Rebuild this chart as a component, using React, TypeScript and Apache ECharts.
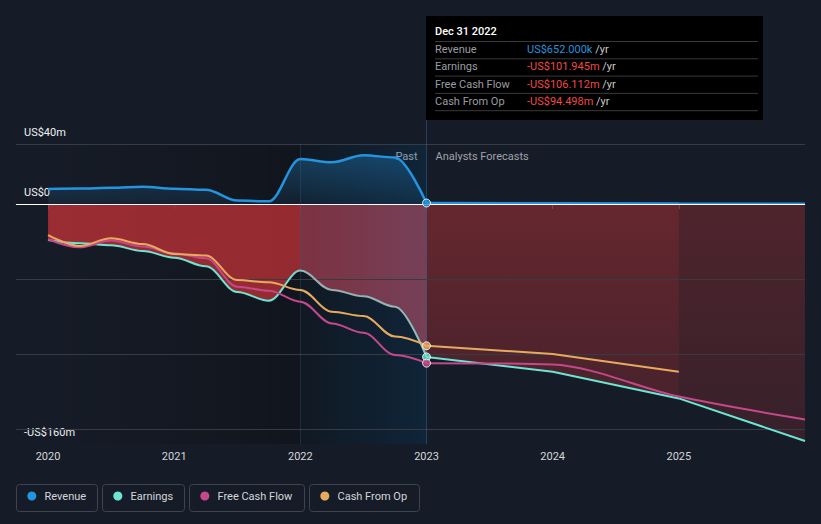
import React, { useEffect, useRef } from "react";
import * as echarts from "echarts";

// ---------- data (US$ millions) ----------
const pastYears = [2020, 2020.25, 2020.5, 2020.75, 2021, 2021.25, 2021.5, 2021.75, 2022, 2022.25, 2022.5, 2022.75, 2023];
const forecastYears = [2023, 2024, 2025, 2026];
const cfoForecastYears = [2023, 2024, 2025];

const revenuePast = [10, 10.3, 10.8, 11.5, 10.2, 9.5, 2.3, 1.8, 30, 27.8, 32.5, 31, 0.652];
const revenueForecast = [0.652, 0.5, 0.3, 0.2];

const earningsPast = [-24, -26.2, -27.5, -31.3, -35.8, -41.5, -58.6, -64.5, -44.4, -57.3, -61.5, -68.5, -101.945];
const earningsForecast = [-101.945, -111.8, -129.6, -158];

const fcfPast = [-23.5, -28.9, -24.4, -28.4, -32.9, -36.2, -55.1, -57.8, -65.1, -79.6, -85.8, -100.7, -106.112];
const fcfForecast = [-106.112, -107, -128.4, -143.6];

const cfoPast = [-20.7, -28, -22.9, -26.7, -33.3, -34.4, -50.7, -52.2, -57.3, -71.8, -74.7, -88.4, -94.498];
const cfoForecast = [-94.498, -100, -111.8];

const xTickYears = [2020, 2021, 2022, 2023, 2024, 2025];
const yLabelValues = [40, 0, -160];
const gridLineValues = [40, -50, -100, -150];

const tooltipTitle = "Dec 31 2022";
const tooltipLabels = ["Revenue", "Earnings", "Free Cash Flow", "Cash From Op"];
const tooltipValues = ["US$652.000k", "-US$101.945m", "-US$106.112m", "-US$94.498m"];

const legendNames = ["Revenue", "Earnings", "Free Cash Flow", "Cash From Op"];

// ---------- style ----------
const BG = "#161c27";
const BLUE = "#2394df";
const TEAL = "#6ce5d5";
const MAGENTA = "#c4488a";
const ORANGE = "#e8aa5e";
const NEG = "#f04848";
const FONT = "Roboto, 'Noto Sans', sans-serif";
const seriesColors = [BLUE, TEAL, MAGENTA, ORANGE];

const zip = (xs: number[], ys: number[]) => xs.map((x, i) => [x, ys[i]]);

function yLabel(v: number): string {
  if (v === 0) return "US$0";
  return (v < 0 ? "-" : "") + "US$" + Math.abs(v) + "m";
}

export default function App() {
  const ref = useRef<HTMLDivElement>(null);

  useEffect(() => {
    const el = ref.current!;
    const chart = echarts.init(el, null, { renderer: "svg" });
    const LG = echarts.graphic.LinearGradient;

    const pastBase: any = {
      type: "line",
      symbol: "none",
      smooth: 0.35,
      smoothMonotone: "x",
      silent: true,
    };
    const fcBase: any = {
      type: "line",
      symbol: "none",
      smooth: false,
      silent: true,
    };

    // past red fill: strong red until 2022, dusty rose over the last year
    const redPast = new LG(0, 0, 1, 0, [
      { offset: 0, color: "rgba(200,50,56,0.74)" },
      { offset: 0.666, color: "rgba(200,50,56,0.72)" },
      { offset: 0.667, color: "rgba(190,66,84,0.62)" },
      { offset: 1, color: "rgba(185,82,108,0.6)" },
    ]);
    const redFcA = new LG(0, 204, 0, 444, [
      { offset: 0, color: "rgba(200,52,56,0.45)" },
      { offset: 1, color: "rgba(200,52,56,0.24)" },
    ], true);
    const redFcB = new LG(0, 204, 0, 444, [
      { offset: 0, color: "rgba(200,52,56,0.32)" },
      { offset: 1, color: "rgba(200,52,56,0.18)" },
    ], true);

    const option: any = {
      animation: false,
      backgroundColor: BG,
      textStyle: { fontFamily: FONT },
      grid: { left: 16, right: 16, top: 144, bottom: 80 },
      xAxis: {
        type: "value",
        min: 2019.746,
        max: 2026,
        axisLine: { show: true, lineStyle: { color: "#3c4049", width: 1 } },
        axisTick: { show: true, length: 5, customValues: xTickYears, lineStyle: { color: "#4a4e57" } },
        axisLabel: {
          customValues: xTickYears,
          color: "#d4d6da",
          fontSize: 11,
          margin: 7,
          fontFamily: FONT,
          formatter: (v: number) => String(Math.round(v)),
        },
        splitLine: { show: false },
      },
      yAxis: {
        type: "value",
        min: -160,
        max: 40,
        axisLine: { show: false },
        axisTick: { show: false },
        splitLine: { show: false },
        axisLabel: {
          inside: true,
          customValues: yLabelValues,
          margin: 8,
          color: "#eef0f2",
          fontSize: 11,
          fontFamily: FONT,
          verticalAlign: "bottom",
          padding: [0, 0, 6, 0],
          formatter: (v: number) => yLabel(v),
        },
      },
      series: [
        // dark shading of the past period
        {
          type: "line",
          data: [],
          z: 0,
          silent: true,
          markArea: {
            silent: true,
            itemStyle: {
              color: new LG(0, 0, 1, 0, [
                { offset: 0, color: "rgba(0,0,0,0)" },
                { offset: 0.667, color: "rgba(0,0,0,0.25)" },
                { offset: 1, color: "rgba(0,0,0,0.3)" },
              ]),
            },
            data: [[{ xAxis: pastYears[0] }, { xAxis: pastYears[pastYears.length - 1] }]],
          },
        },
        // grid lines
        {
          type: "line",
          data: [],
          z: 1,
          silent: true,
          markLine: {
            silent: true,
            symbol: ["none", "none"],
            label: { show: false },
            lineStyle: { color: "#363b44", width: 1, type: "solid" },
            data: [
              ...gridLineValues.map((v) => ({ yAxis: v })),
              { yAxis: 0, lineStyle: { color: "#ffffff", width: 1, type: "solid" } },
              { xAxis: 2022, lineStyle: { color: "rgba(60,100,140,0.3)", width: 1, type: "solid" } },
              { xAxis: 2023, lineStyle: { color: "rgba(60,110,160,0.45)", width: 1, type: "solid" } },
            ],
          },
        },
        // red fills below earnings
        {
          ...pastBase,
          z: 2,
          data: zip(pastYears, earningsPast),
          lineStyle: { width: 0, opacity: 0 },
          areaStyle: { color: redPast, opacity: 1 },
        },
        {
          ...fcBase,
          z: 2,
          data: zip(forecastYears.slice(0, 3), earningsForecast.slice(0, 3)),
          lineStyle: { width: 0, opacity: 0 },
          areaStyle: { color: redFcA, opacity: 1 },
        },
        {
          ...fcBase,
          z: 2,
          data: zip(forecastYears.slice(2), earningsForecast.slice(2)),
          lineStyle: { width: 0, opacity: 0 },
          areaStyle: { color: redFcB, opacity: 1 },
        },
        // revenue
        {
          ...pastBase,
          z: 3,
          data: zip(pastYears, revenuePast),
          lineStyle: { color: BLUE, width: 2.5 },
          areaStyle: {
            opacity: 1,
            color: new LG(0, 0, 0, 1, [
              { offset: 0, color: "rgba(35,148,223,0.32)" },
              { offset: 1, color: "rgba(35,148,223,0.08)" },
            ]),
          },
        },
        {
          ...fcBase,
          z: 3,
          data: zip(forecastYears, revenueForecast),
          lineStyle: { color: BLUE, width: 2.5 },
        },
        // earnings
        {
          ...pastBase,
          z: 5,
          data: zip(pastYears, earningsPast),
          lineStyle: {
            width: 2,
            color: new LG(0, 0, 1, 0, [
              { offset: 0, color: TEAL },
              { offset: 0.64, color: TEAL },
              { offset: 0.69, color: "#9aaeac" },
              { offset: 0.93, color: "#93b4b2" },
              { offset: 1, color: "#80c8c0" },
            ]),
          },
        },
        {
          ...fcBase,
          z: 5,
          data: zip(forecastYears, earningsForecast),
          lineStyle: { width: 2, color: TEAL },
        },
        // free cash flow
        {
          ...pastBase,
          z: 6,
          data: zip(pastYears, fcfPast),
          lineStyle: { width: 2, color: MAGENTA },
        },
        {
          ...fcBase,
          smooth: 0.3,
          z: 6,
          data: zip(forecastYears, fcfForecast),
          lineStyle: { width: 2, color: MAGENTA },
        },
        // cash from operations
        {
          ...pastBase,
          z: 7,
          data: zip(pastYears, cfoPast),
          lineStyle: { width: 2, color: ORANGE },
        },
        {
          ...fcBase,
          z: 7,
          data: zip(cfoForecastYears, cfoForecast),
          lineStyle: { width: 2, color: ORANGE },
        },
        // highlight overlay of last year
        {
          type: "line",
          data: [],
          z: 8,
          silent: true,
          markArea: {
            silent: true,
            itemStyle: {
              color: new LG(0, 0, 1, 0, [
                { offset: 0, color: "rgba(15,80,130,0.06)" },
                { offset: 1, color: "rgba(15,80,130,0.28)" },
              ]),
            },
            data: [[{ xAxis: 2022 }, { xAxis: 2023 }]],
          },
        },
        // end-of-past dots
        {
          type: "scatter",
          z: 10,
          silent: true,
          symbolSize: 8,
          data: [
            { value: [2023, revenuePast[revenuePast.length - 1]], itemStyle: { color: BLUE } },
            { value: [2023, cfoPast[cfoPast.length - 1]], itemStyle: { color: ORANGE } },
            { value: [2023, earningsPast[earningsPast.length - 1]], itemStyle: { color: TEAL } },
            { value: [2023, fcfPast[fcfPast.length - 1]], itemStyle: { color: MAGENTA } },
          ],
          itemStyle: { borderColor: "#ffffff", borderWidth: 1 },
        },
      ],
    };

    chart.setOption(option);

    const x23 = chart.convertToPixel({ xAxisIndex: 0 }, 2023) as number;
    const g: any[] = [];
    g.push({
      type: "line",
      silent: true,
      shape: { x1: x23, y1: 119, x2: x23, y2: 144 },
      style: { stroke: "rgba(60,110,160,0.45)", lineWidth: 1 },
    });
    g.push({
      type: "text",
      silent: true,
      x: x23 - 9,
      y: 156,
      style: { text: "Past", fill: "#ffffff", font: `11px ${FONT}`, textAlign: "right", textVerticalAlign: "middle" },
    });
    g.push({
      type: "text",
      silent: true,
      x: x23 + 9,
      y: 156,
      style: { text: "Analysts Forecasts", fill: "#9ea2a8", font: `11px ${FONT}`, textAlign: "left", textVerticalAlign: "middle" },
    });
    // tooltip box
    const tx = x23 - 0.5;
    g.push({ type: "rect", silent: true, shape: { x: tx, y: 16, width: 337, height: 104 }, style: { fill: "#000000" } });
    g.push({
      type: "text",
      silent: true,
      x: tx + 9,
      y: 31,
      style: { text: tooltipTitle, fill: "#ffffff", font: `500 11px ${FONT}`, textVerticalAlign: "middle" },
    });
    for (let i = 0; i <= tooltipLabels.length; i++) {
      const ys = 41.5 + i * 17.3;
      g.push({
        type: "line",
        silent: true,
        shape: { x1: tx + 9, y1: ys, x2: tx + 332, y2: ys },
        style: { stroke: "#3a3a3a", lineWidth: 1 },
      });
    }
    tooltipLabels.forEach((lab, i) => {
      const yc = 49.5 + i * 17.3;
      g.push({
        type: "text",
        silent: true,
        x: tx + 9,
        y: yc,
        style: { text: lab, fill: "#9a9da3", font: `11px ${FONT}`, textVerticalAlign: "middle" },
      });
      g.push({
        type: "text",
        silent: true,
        x: tx + 101,
        y: yc,
        style: {
          text: `{v|${tooltipValues[i]}} {u|/yr}`,
          textVerticalAlign: "middle",
          font: `11px ${FONT}`,
          rich: {
            v: { fill: i === 0 ? BLUE : NEG, font: `11px ${FONT}` },
            u: { fill: "#c8cacd", font: `11px ${FONT}` },
          },
        },
      });
    });
    // legend
    const boxes = [
      [16.5, 81],
      [102.5, 82],
      [189.5, 115],
      [309.5, 110],
    ];
    legendNames.forEach((name, i) => {
      const [bx, bw] = boxes[i];
      g.push({
        type: "rect",
        silent: true,
        shape: { x: bx, y: 484.5, width: bw, height: 27, r: 3 },
        style: { fill: "none", stroke: "#3e434c", lineWidth: 1 },
      });
      g.push({
        type: "circle",
        silent: true,
        shape: { cx: bx + 15.3, cy: 496, r: 4.5 },
        style: { fill: seriesColors[i] },
      });
      g.push({
        type: "text",
        silent: true,
        x: bx + 28,
        y: 496.5,
        style: { text: name, fill: "#d4d6da", font: `11px ${FONT}`, textVerticalAlign: "middle" },
      });
    });
    chart.setOption({ graphic: g });

    return () => chart.dispose();
  }, []);

  return (
    <div
      ref={ref}
      style={{ position: "fixed", left: 0, top: 0, width: 821, height: 524, background: BG }}
    />
  );
}
